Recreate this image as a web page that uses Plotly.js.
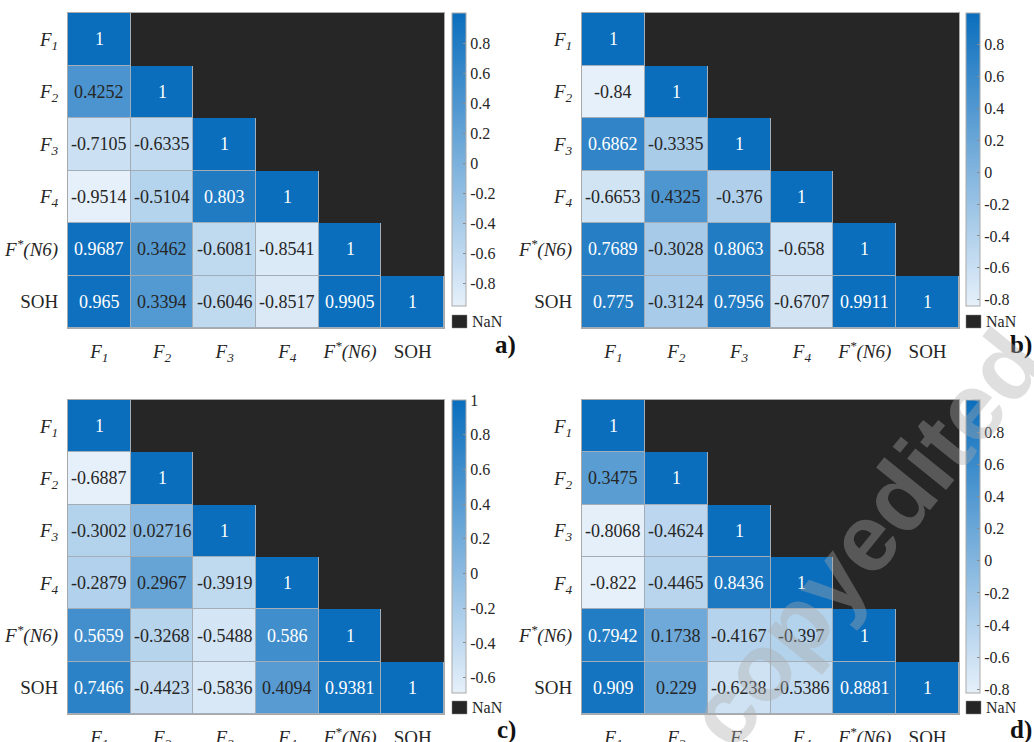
<!DOCTYPE html>
<html>
<head>
<meta charset="utf-8">
<script src="https://cdn.plot.ly/plotly-3.0.1.min.js"></script>
<style>html,body{margin:0;padding:0;background:#fff;}#chart{width:1034px;height:742px;}</style>
</head>
<body>
<div id="chart"></div>
<script>
// ---------- DATA ----------
const varLabels = ['<i>F<sub>1</sub></i>', '<i>F<sub>2</sub></i>', '<i>F<sub>3</sub></i>', '<i>F<sub>4</sub></i>', '<i>F<sup>*</sup>(N6)</i>', 'SOH'];

// lower-triangular correlation rows (row i has i+1 values)
const corrA = [
  [1],
  [0.4252, 1],
  [-0.7105, -0.6335, 1],
  [-0.9514, -0.5104, 0.803, 1],
  [0.9687, 0.3462, -0.6081, -0.8541, 1],
  [0.965, 0.3394, -0.6046, -0.8517, 0.9905, 1]
];
const corrB = [
  [1],
  [-0.84, 1],
  [0.6862, -0.3335, 1],
  [-0.6653, 0.4325, -0.376, 1],
  [0.7689, -0.3028, 0.8063, -0.658, 1],
  [0.775, -0.3124, 0.7956, -0.6707, 0.9911, 1]
];
const corrC = [
  [1],
  [-0.6887, 1],
  [-0.3002, 0.02716, 1],
  [-0.2879, 0.2967, -0.3919, 1],
  [0.5659, -0.3268, -0.5488, 0.586, 1],
  [0.7466, -0.4423, -0.5836, 0.4094, 0.9381, 1]
];
const corrD = [
  [1],
  [0.3475, 1],
  [-0.8068, -0.4624, 1],
  [-0.822, -0.4465, 0.8436, 1],
  [0.7942, 0.1738, -0.4167, -0.397, 1],
  [0.909, 0.229, -0.6238, -0.5386, 0.8881, 1]
];
const cbTicksA = [-0.8, -0.6, -0.4, -0.2, 0, 0.2, 0.4, 0.6, 0.8];
const cbTicksB = [-0.8, -0.6, -0.4, -0.2, 0, 0.2, 0.4, 0.6, 0.8];
const cbTicksC = [-0.6, -0.4, -0.2, 0, 0.2, 0.4, 0.6, 0.8, 1];
const cbTicksD = [-0.8, -0.6, -0.4, -0.2, 0, 0.2, 0.4, 0.6, 0.8];
const panelTags = ['a)', 'b)', 'c)', 'd)'];
const watermark = 'copyedited';

// ---------- LAYOUT CONSTANTS ----------
const W = 1034, H = 742;
const panelBoxes = [
  {x0: 68,  x1: 444, y0: 13,  y1: 328, cbx: 452, tagx: 518, tagy: 345},
  {x0: 582, x1: 959, y0: 13,  y1: 328, cbx: 966, tagx: 1034, tagy: 345},
  {x0: 68,  x1: 444, y0: 400, y1: 714, cbx: 452, tagx: 518, tagy: 730},
  {x0: 582, x1: 959, y0: 400, y1: 714, cbx: 966, tagx: 1034, tagy: 730}
];
const SERIF = '"Liberation Serif"';
const TXT = '#262626';
const NANC = '#262626';
const colorscale = [[0, '#e6f0fa'], [1, '#0a6ebd']];

const datasets = [corrA, corrB, corrC, corrD];
const cbTicks = [cbTicksA, cbTicksB, cbTicksC, cbTicksD];

const n = varLabels.length;
const idx = varLabels.map((_, i) => i);

const traces = [];
const layout = {
  width: W, height: H,
  margin: {l: 0, r: 0, t: 0, b: 0},
  paper_bgcolor: '#ffffff',
  plot_bgcolor: '#a3adb7',
  showlegend: false,
  font: {family: SERIF, color: TXT},
  annotations: [],
  shapes: []
};

datasets.forEach((rows, k) => {
  const b = panelBoxes[k];
  const sfx = k === 0 ? '' : String(k + 1);
  const xa = 'x' + sfx, ya = 'y' + sfx;
  const z = [], zNaN = [];
  let zmin = Infinity;
  for (let i = 0; i < n; i++) {
    const r = [], rn = [];
    for (let j = 0; j < n; j++) {
      if (j <= i) { r.push(rows[i][j]); rn.push(null); zmin = Math.min(zmin, rows[i][j]); }
      else { r.push(null); rn.push(1); }
    }
    z.push(r); zNaN.push(rn);
  }
  const zmax = 1;

  traces.push({
    type: 'heatmap', x: idx, y: idx, z: zNaN, xaxis: xa, yaxis: ya,
    colorscale: [[0, NANC], [1, NANC]], zmin: 0, zmax: 1,
    showscale: false, hoverinfo: 'skip'
  });
  const cby0 = b.y0, cby1 = b.y0 + 293;
  traces.push({
    type: 'heatmap', x: idx, y: idx, z: z, xaxis: xa, yaxis: ya,
    colorscale: colorscale, zmin: zmin, zmax: zmax, xgap: 1, ygap: 1,
    hoverongaps: false,
    colorbar: {
      x: b.cbx / W, xanchor: 'left', xpad: 0,
      y: 1 - (cby0 + cby1) / 2 / H, yanchor: 'middle', ypad: 0,
      len: cby1 - cby0, lenmode: 'pixels',
      thickness: 14, thicknessmode: 'pixels',
      outlinewidth: 1, outlinecolor: '#a9a9a9',
      tickmode: 'array', tickvals: cbTicks[k], ticktext: cbTicks[k].map(String),
      ticks: 'inside', ticklen: 3, tickcolor: '#8a8a8a', tickwidth: 1,
      tickfont: {family: SERIF, size: 16, color: TXT}
    }
  });

  const axCommon = {
    showgrid: false, zeroline: false, showline: true, mirror: true,
    linecolor: '#a9a9a9', linewidth: 1, ticks: '',
    tickmode: 'array', tickvals: idx, ticktext: varLabels,
    tickfont: {family: SERIF, size: 19, color: TXT},
    fixedrange: true
  };
  layout['xaxis' + sfx] = Object.assign({}, axCommon, {
    domain: [b.x0 / W, b.x1 / W], range: [-0.5, n - 0.5], anchor: ya,
    ticklabelstandoff: 6
  });
  layout['yaxis' + sfx] = Object.assign({}, axCommon, {
    domain: [1 - b.y1 / H, 1 - b.y0 / H], range: [n - 0.5, -0.5], anchor: xa,
    ticklabelstandoff: 5
  });

  // cell value labels
  for (let i = 0; i < n; i++) {
    for (let j = 0; j <= i; j++) {
      const v = rows[i][j];
      const t = (v - zmin) / (zmax - zmin);
      layout.annotations.push({
        xref: xa, yref: ya, x: j, y: i, text: String(v), showarrow: false,
        font: {family: SERIF, size: 18, color: t > 0.72 ? '#ffffff' : TXT}
      });
    }
  }

  // NaN legend swatch
  layout.shapes.push({
    type: 'rect', xref: 'paper', yref: 'paper',
    x0: b.cbx / W, x1: (b.cbx + 15) / W,
    y0: 1 - b.y1 / H, y1: 1 - (b.y1 - 13) / H,
    fillcolor: NANC, line: {color: '#8a8a8a', width: 0.5}
  });
  layout.annotations.push({
    xref: 'paper', yref: 'paper', x: (b.cbx + 18) / W, y: 1 - (b.y1 - 6.5) / H,
    xanchor: 'left', yanchor: 'middle', text: 'NaN', showarrow: false,
    font: {family: SERIF, size: 16, color: TXT}
  });

  // panel tag
  layout.annotations.push({
    xref: 'paper', yref: 'paper', x: b.tagx / W, y: 1 - b.tagy / H,
    xanchor: 'right', yanchor: 'middle', text: '<b>' + panelTags[k] + '</b>', showarrow: false,
    font: {family: SERIF, size: 25, color: '#111111'}
  });
});

// watermark
layout.annotations.push({
  xref: 'paper', yref: 'paper', x: 865 / W, y: 1 - 538 / H,
  xanchor: 'center', yanchor: 'middle', text: '<b>' + watermark + '</b>', showarrow: false,
  textangle: -51,
  font: {family: '"Liberation Sans"', size: 95, color: 'rgba(170,170,170,0.38)'}
});

Plotly.newPlot('chart', traces, layout, {displayModeBar: false, staticPlot: true});
</script>
</body>
</html>
